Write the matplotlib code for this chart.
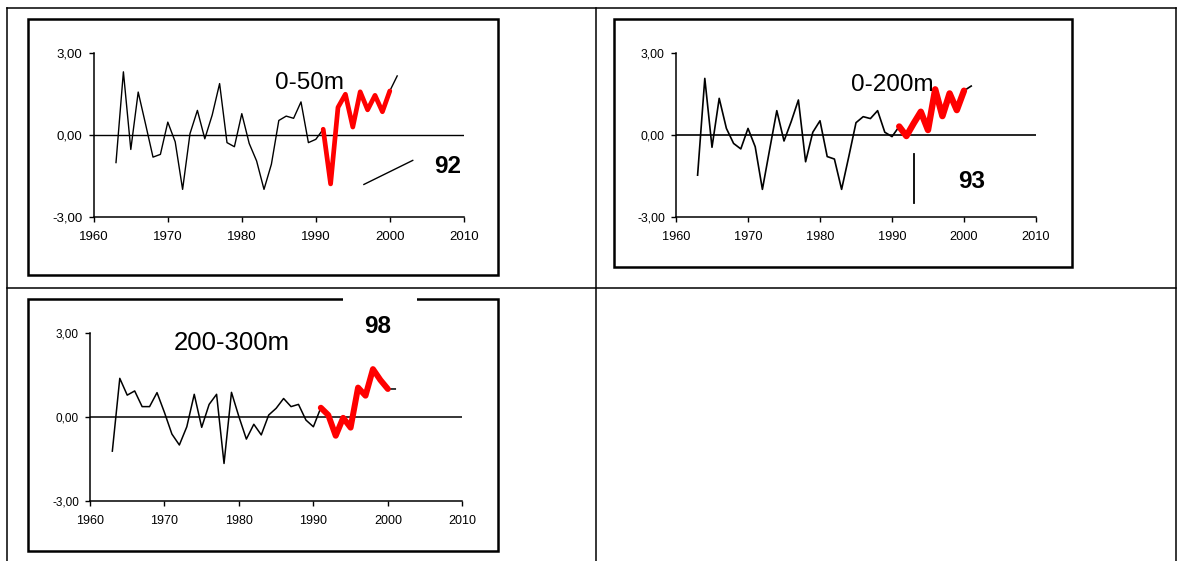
import numpy as np
import matplotlib.pyplot as plt
from matplotlib.patches import Rectangle

plt.rcParams['font.family'] = ['Liberation Sans', 'DejaVu Sans']

W, H = 1180, 561

# yearly anomalies, 1963-2001
years = np.arange(1963, 2002)
anom_0_50 = [-1.02, 2.30, -0.54, 1.56, 0.38, -0.82, -0.72, 0.46, -0.26, -2.00,
             0.04, 0.89, -0.15, 0.72, 1.87, -0.29, -0.44, 0.77, -0.32, -0.96,
             -2.00, -1.08, 0.52, 0.68, 0.60, 1.20, -0.29, -0.17, 0.20, -1.80,
             1.00, 1.48, 0.28, 1.57, 0.91, 1.44, 0.84, 1.60, 2.15]
anom_0_200 = [-1.48, 2.06, -0.46, 1.33, 0.23, -0.32, -0.52, 0.23, -0.44, -2.00,
              -0.55, 0.88, -0.23, 0.48, 1.27, -0.99, 0.09, 0.51, -0.80, -0.89,
              -2.00, -0.80, 0.44, 0.66, 0.59, 0.88, 0.09, -0.07, 0.30, -0.05,
              0.41, 0.84, 0.17, 1.66, 0.68, 1.51, 0.90, 1.61, 1.78]
anom_200_300 = [-1.23, 1.37, 0.77, 0.92, 0.36, 0.36, 0.86, 0.15, -0.62, -1.01,
                -0.36, 0.80, -0.38, 0.44, 0.80, -1.67, 0.87, 0.00, -0.80, -0.27,
                -0.65, 0.06, 0.30, 0.65, 0.36, 0.44, -0.12, -0.36, 0.32, 0.06,
                -0.68, -0.04, -0.39, 1.04, 0.75, 1.70, 1.31, 0.99, 0.99]

# highlighted recent period
hl_start, hl_end = 1991, 2000

xticks = [1960, 1970, 1980, 1990, 2000, 2010]
yticks = [-3, 0, 3]
ytick_labels = ['-3,00', '0,00', '3,00']

# hand-drawn marks next to the year labels
stroke_92 = ([1996.5, 2003.1], [-1.82, -0.94])
stroke_93 = ([1993.05, 1993.05], [-0.72, -2.51])

fig = plt.figure(figsize=(W / 100, H / 100), dpi=100)

# page layer in pixel units: table grid and chart frames
bg = fig.add_axes([0, 0, 1, 1])
bg.set_xlim(0, W)
bg.set_ylim(H, 0)
bg.axis('off')

grid_lw = 1.1
bg.plot([7, 1176], [7.5, 7.5], color='black', lw=grid_lw)
bg.plot([7, 1176], [287.5, 287.5], color='black', lw=grid_lw)
bg.plot([7.3, 7.3], [7.5, H], color='black', lw=grid_lw)
bg.plot([596, 596], [7.5, H], color='black', lw=grid_lw)
bg.plot([1176, 1176], [7.5, H], color='black', lw=grid_lw)

frames = [(28, 19, 497.5, 275), (614, 19, 1071.7, 266.7), (28, 299, 497.5, 550.7)]
for x0, y0, x1, y1 in frames:
    bg.add_patch(Rectangle((x0, y0), x1 - x0, y1 - y0, fill=False,
                           edgecolor='black', lw=1.8))
# white patch over the top frame edge of the third chart
bg.add_patch(Rectangle((342.5, 295), 74.5, 8, facecolor='white',
                       edgecolor='none', zorder=5))


def panel(left, top, right, bottom, values, label, label_xy, label_size,
          year_label, year_xy, red_lw, black_lw, tick_size, ytick_size):
    ax = fig.add_axes([left / W, 1 - bottom / H, (right - left) / W, (bottom - top) / H])
    ax.set_facecolor('none')
    vals = np.array(values)
    ax.axhline(0, color='black', lw=black_lw)
    ax.plot(years, vals, color='black', lw=black_lw, zorder=3)
    sel = (years >= hl_start) & (years <= hl_end)
    ax.plot(years[sel], vals[sel], color='#ff0000', lw=red_lw, zorder=4,
            solid_capstyle='round', solid_joinstyle='round')
    ax.set_xlim(1960, 2010)
    ax.set_ylim(-3, 3)
    ax.set_xticks(xticks)
    ax.set_xticklabels([str(t) for t in xticks], fontsize=tick_size)
    ax.set_yticks(yticks)
    ax.set_yticklabels(ytick_labels, fontsize=ytick_size)
    ax.tick_params(axis='x', direction='out', length=3.5, width=1, pad=7)
    ax.tick_params(axis='y', direction='out', length=3.5, width=1, pad=4.5)
    for s in ['top', 'right']:
        ax.spines[s].set_visible(False)
    for s in ['left', 'bottom']:
        ax.spines[s].set_linewidth(1.1)
    ax.text(label_xy[0], label_xy[1], label, fontsize=label_size,
            ha='center', va='baseline', zorder=6, clip_on=False)
    ax.text(year_xy[0], year_xy[1], year_label, fontsize=17.5, fontweight='bold',
            ha='center', va='baseline', zorder=6, clip_on=False)
    return ax


ax1 = panel(93.8, 52.7, 463.8, 216.7, anom_0_50, '0-50m', (1989.1, 1.68), 17.5,
            '92', (2007.8, -1.41), 3.4, 1.0, 9.5, 9.5)
ax1.plot(*stroke_92, color='black', lw=1.0)

ax2 = panel(676, 52.7, 1036, 216.7, anom_0_200, '0-200m', (1990.1, 1.6), 17.5,
            '93', (2001.1, -1.96), 4.6, 1.2, 9.2, 8.7)
ax2.plot(*stroke_93, color='black', lw=1.3)

ax3 = panel(90, 332.7, 462.3, 500.7, anom_200_300, '200-300m', (1979.1, 2.4), 18.5,
            '98', (1998.6, 3.0), 4.3, 1.1, 9.0, 8.5)

fig.savefig('out.png', dpi=100, facecolor='white')
